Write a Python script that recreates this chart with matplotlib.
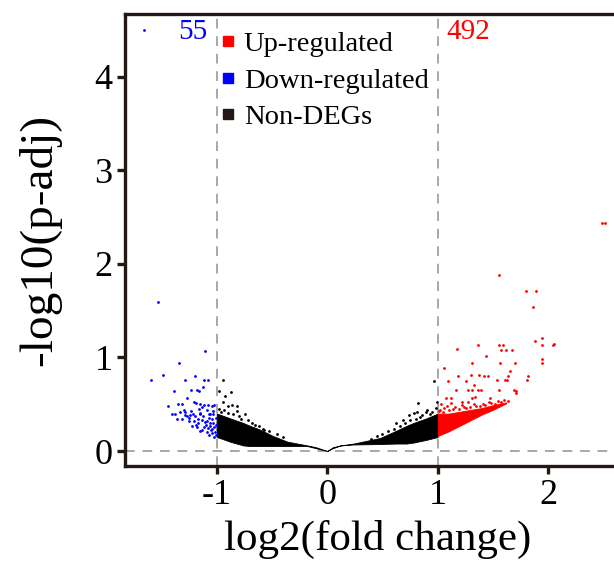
import matplotlib
matplotlib.use("Agg")
import matplotlib.pyplot as plt
from matplotlib.lines import Line2D

# ---------------- data ----------------
# dense non-DEG cloud, left half: x, lower / upper bound of the dense band
ns_left_x = [-1.0, -0.95, -0.88, -0.76, -0.70, -0.61, -0.49, -0.36, -0.18, -0.10, 0.0]
ns_left_lo = [0.15, 0.13, 0.10, 0.06, 0.053, 0.053, 0.053, 0.053, 0.053, 0.03, 0.0]
ns_left_hi = [0.40, 0.38, 0.35, 0.30, 0.27, 0.23, 0.16, 0.10, 0.06, 0.04, 0.0]
# dense non-DEG cloud, right half
ns_right_x = [0.0, 0.05, 0.12, 0.24, 0.48, 0.63, 0.72, 0.78, 0.90, 1.0]
ns_right_lo = [0.0, 0.03, 0.06, 0.07, 0.075, 0.08, 0.08, 0.09, 0.12, 0.15]
ns_right_hi = [0.0, 0.04, 0.06, 0.08, 0.14, 0.22, 0.27, 0.30, 0.35, 0.40]
# dense up-regulated cloud
up_dense_x = [1.0, 1.1, 1.2, 1.3, 1.4, 1.5, 1.62]
up_dense_lo = [0.16, 0.21, 0.27, 0.33, 0.39, 0.44, 0.51]
up_dense_hi = [0.40, 0.40, 0.42, 0.44, 0.46, 0.49, 0.52]

# individual non-DEG points
ns_x = [-0.947, -0.975, -0.869, -0.926, -0.944, -0.902, -0.866, -0.812, -0.817, -0.742,
        -0.613, -0.570, -0.98, -0.96, -0.93, -0.90, -0.85, -0.80, -0.78, -0.72, -0.68,
        -0.65, -0.58, -0.53, -0.45, -0.40,
        0.962, 0.993, 0.826, 0.902, 0.890, 0.787, 0.817, 0.736, 0.690, 0.618,
        0.98, 0.95, 0.93, 0.86, 0.84, 0.80, 0.75, 0.70, 0.66, 0.60, 0.55, 0.50, 0.45, 0.40]
ns_y = [0.756, 0.642, 0.631, 0.585, 0.524, 0.484, 0.489, 0.478, 0.431, 0.396,
        0.271, 0.225, 0.45, 0.42, 0.44, 0.41, 0.40, 0.37, 0.34, 0.33, 0.30,
        0.28, 0.24, 0.21, 0.18, 0.15,
        0.749, 0.527, 0.510, 0.439, 0.414, 0.410, 0.414, 0.385, 0.332, 0.297,
        0.46, 0.42, 0.40, 0.38, 0.36, 0.34, 0.33, 0.30, 0.27, 0.24, 0.21, 0.18, 0.16, 0.13]

# down-regulated points
down_x = [-1.662, -1.532, -1.110, -1.337, -1.490, -1.599, -1.195, -1.285, -1.119, -1.083,
          -1.387, -1.231, -1.174, -1.158, -1.128, -1.267,
          -1.442, -1.346, -1.310, -1.210, -1.186, -1.149, -1.119, -1.080, -1.043, -1.023,
          -1.300, -1.285, -1.405, -1.382, -1.215, -1.149, -1.074, -1.034, -1.355, -1.315,
          -1.255, -1.210, -1.134, -1.089, -1.043, -1.224, -1.179, -1.119, -1.059, -1.023,
          -1.149, -1.089, -1.043, -1.074, -1.029,
          -1.25, -1.17, -1.10, -1.05, -1.02, -1.13, -1.19, -1.27, -1.33, -1.23,
          -1.16, -1.09, -1.03, -1.07, -1.12, -1.20, -1.06, -1.01, -1.01, -1.13,
          -1.04, -1.08, -1.11, -1.15, -1.01, -1.03, -1.06, -1.17, -1.24, -1.29]
down_y = [4.50, 1.59, 1.066, 0.938, 0.816, 0.756, 0.802, 0.756, 0.756, 0.756,
          0.642, 0.649, 0.649, 0.642, 0.681, 0.564,
          0.478, 0.499, 0.499, 0.527, 0.510, 0.503, 0.492, 0.492, 0.481, 0.489,
          0.439, 0.420, 0.396, 0.393, 0.396, 0.393, 0.396, 0.396, 0.345, 0.342,
          0.324, 0.318, 0.332, 0.324, 0.339, 0.267, 0.253, 0.260, 0.267, 0.253,
          0.217, 0.206, 0.189, 0.171, 0.153,
          0.35, 0.30, 0.28, 0.22, 0.20, 0.23, 0.28, 0.37, 0.42, 0.43,
          0.45, 0.44, 0.43, 0.35, 0.37, 0.37, 0.30, 0.28, 0.35, 0.47,
          0.24, 0.25, 0.31, 0.41, 0.17, 0.30, 0.40, 0.34, 0.38, 0.38]

# up-regulated points
up_x = [2.486, 2.516, 1.557, 1.801, 1.889, 1.864, 1.948, 1.876, 2.043, 2.048,
        1.946, 1.179, 1.364, 1.557, 1.588, 1.573, 1.617, 1.674, 1.437, 1.946,
        1.946, 1.059, 1.308, 1.561, 1.701, 1.656, 1.089, 1.181, 1.299, 1.378,
        1.421, 1.451, 1.632, 1.538, 1.606, 1.626, 1.816, 1.804, 1.258, 1.328,
        1.167, 1.273, 1.310, 1.369, 1.396, 1.557, 1.692, 1.710, 1.704, 1.119,
        1.077, 1.306, 1.333, 1.475, 1.219, 1.273,
        1.03, 1.08, 1.12, 1.16, 1.22, 1.26, 1.33, 1.38, 1.43, 1.48, 1.52, 1.57, 1.02, 1.06,
        1.01, 1.05, 1.10, 1.14, 1.19, 1.24, 1.29, 1.35, 1.41, 1.46, 1.55, 1.60, 1.64]
up_y = [2.439, 2.439, 1.879, 1.708, 1.714, 1.537, 1.209, 1.180, 1.130, 1.144,
        1.130, 1.091, 1.130, 1.130, 1.130, 1.077, 1.077, 1.077, 1.019, 0.981,
        0.936, 0.891, 0.938, 0.938, 0.938, 0.850, 0.752, 0.807, 0.813, 0.810,
        0.802, 0.802, 0.802, 0.756, 0.756, 0.756, 0.797, 0.756, 0.752, 0.701,
        0.652, 0.647, 0.652, 0.652, 0.652, 0.647, 0.652, 0.642, 0.620, 0.570,
        0.570, 0.570, 0.574, 0.570, 0.527, 0.527,
        0.50, 0.48, 0.51, 0.47, 0.49, 0.46, 0.50, 0.48, 0.49, 0.51, 0.50, 0.52, 0.44, 0.46,
        0.43, 0.42, 0.44, 0.45, 0.45, 0.47, 0.47, 0.48, 0.50, 0.52, 0.53, 0.54, 0.53]

n_down = "55"
n_up = "492"
x_ticks = [-1, 0, 1, 2]
y_ticks = [0, 1, 2, 3, 4]
legend_labels = ["Up-regulated", "Down-regulated", "Non-DEGs"]

# ---------------- style ----------------
RED = "#ff0000"
BLUE = "#0000ff"
BLACK = "#000000"
FRAME = "#231815"
GRID = "#a8a8a8"
plt.rcParams["font.family"] = ["Liberation Serif", "DejaVu Serif"]

W, H = 614, 561
fig = plt.figure(figsize=(W / 100, H / 100), dpi=100)
xl, xr = -1.83, 2.75
yb, yt = -0.16, 4.67
px_per_x = 110.5
ax_w = (xr - xl) * px_per_x
ax = fig.add_axes([125 / W, 95 / H, ax_w / W, 452 / H])
ax.set_xlim(xl, xr)
ax.set_ylim(yb, yt)

# reference lines
for xv in (-1, 1):
    ax.axvline(xv, color=GRID, lw=1.4, ls=(0, (5, 4)), zorder=1)
ax.axhline(0, color=GRID, lw=1.4, ls=(0, (5, 4)), zorder=1)

# dense clouds
ax.fill_between(ns_left_x, ns_left_lo, ns_left_hi, color=BLACK, lw=0.6, zorder=2)
ax.fill_between(ns_right_x, ns_right_lo, ns_right_hi, color=BLACK, lw=0.6, zorder=2)
ax.fill_between(up_dense_x, up_dense_lo, up_dense_hi, color=RED, lw=0.6, zorder=2)

ms = 4
ax.scatter(ns_x, ns_y, s=ms, c=BLACK, marker="o", linewidths=0, zorder=3)
ax.scatter(down_x, down_y, s=ms, c=BLUE, marker="o", linewidths=0, zorder=3)
ax.scatter(up_x, up_y, s=ms, c=RED, marker="o", linewidths=0, zorder=3)

# counts
ax.text(-1.08, 4.62, n_down, color=BLUE, fontsize=21, ha="right", va="top")
ax.text(1.08, 4.62, n_up, color=RED, fontsize=21, ha="left", va="top")

# legend
handles = [Line2D([], [], marker="s", ls="", color=c, markersize=7)
           for c in (RED, BLUE, FRAME)]
ax.legend(handles, legend_labels, loc="upper left", frameon=False,
          bbox_to_anchor=(221 / W, 1 - 31 / H), bbox_transform=fig.transFigure,
          fontsize=20.5, handlelength=0.5, handletextpad=0.3, labelspacing=0.38,
          borderpad=0, borderaxespad=0)

# axes styling
for side in ("left", "bottom", "top"):
    ax.spines[side].set_linewidth(2.4)
    ax.spines[side].set_color(FRAME)
ax.spines["right"].set_visible(False)
ax.set_xticks(x_ticks)
ax.set_yticks(y_ticks)
ax.set_xticklabels([str(t) for t in x_ticks])
ax.set_yticklabels([str(t) for t in y_ticks])
ax.tick_params(direction="out", length=6, width=2.4, color=FRAME,
               labelsize=26, pad=3, labelcolor=BLACK)
ax.set_xlabel("log2(fold change)", fontsize=31, labelpad=6)
ax.set_ylabel("-log10(p-adj)", fontsize=34, labelpad=24)

fig.savefig("out.png", dpi=100)
